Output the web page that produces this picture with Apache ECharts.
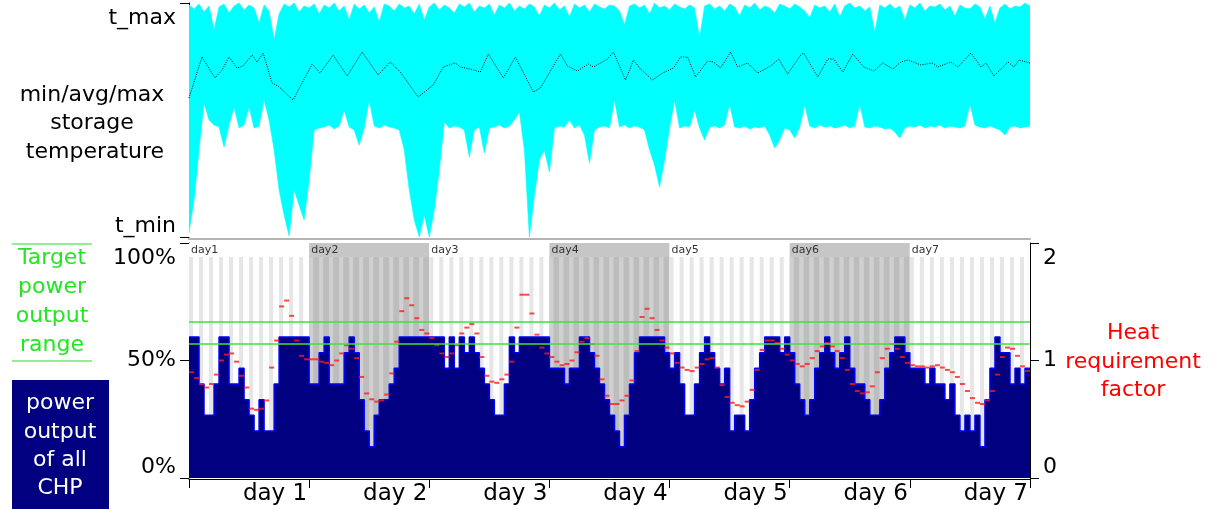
<!DOCTYPE html>
<html><head><meta charset="utf-8">
<script src="https://cdn.jsdelivr.net/npm/echarts@6/dist/echarts.min.js"></script>
<style>html,body{margin:0;padding:0;background:#fff}#c{width:1216px;height:509px}</style>
</head><body><div id="c"></div>
<script>
// ---- data (hours 0..168 across 7 days) ----
const hoursPerDay = 24;
const dayLabels = ['day 1','day 2','day 3','day 4','day 5','day 6','day 7'];
const dayHeaders = ['day1','day2','day3','day4','day5','day6','day7'];
const tempTicks = ['t_min','t_max'];
// storage temperature, relative units between t_min (0) and t_max (234), hourly
const tempMax = [232,228,233,225,231,207,230,233,224,231, 234,227,232,229,214,232,226,197,223,233,
 230,234,225,231,229,233,223,232,229,234, 226,231,217,233,228,232,224,230,215,233,
 231,226,233,229,231,223,233,217,230,234, 227,232,229,224,233,230,234,225,231,229,
 233,222,232,229,234,226,231,228,233,230, 221,232,229,234,227,231,220,233,229,232,
 225,233,230,228,232,231,226,212,231,233, 229,232,223,234,229,231,227,233,230,228,
 232,229,199,231,233,228,231,226,233,230, 221,232,229,234,227,231,229,224,233,231,
 228,233,230,226,219,232,229,231,225,233, 220,231,234,229,231,226,230,205,232,229,
 233,228,231,217,232,229,234,226,231,230, 233,227,231,221,232,229,228,233,230,218,
 231,214,229,233,228,231,230,234,231];
const tempMin = [4,37,87,134,117,112,110,90,112,130, 109,112,130,109,111,137,117,87,47,22,
 1,47,32,17,57,107,109,110,112,108, 111,127,110,107,92,109,137,111,109,112,
 110,109,107,87,47,17,0,22,0,27, 67,115,109,111,110,107,80,107,110,84,
 109,110,112,109,111,117,125,87,0,42, 77,87,65,109,111,110,117,109,112,102,
 74,107,110,111,109,137,110,112,109,111, 110,107,87,72,50,77,109,137,109,111,
 110,127,109,97,110,111,109,112,133,110, 109,111,108,110,109,111,102,89,97,109,
 107,99,110,132,111,109,112,110,111,109, 110,112,109,111,133,110,109,111,110,108,
 109,105,99,109,111,110,112,109,111,110, 112,109,111,110,109,111,133,112,110,109,
 111,109,107,102,110,111,109,110,111];
const avgHours = [0,2.6,5.2,6.6,8,9.6,10.8,12.6,13.6,14.8,16.6,17.8,20.8,24.6,26.2,28.8,31.6,34.6,37.8,40.2,
 42.2,45.8,48.8,50.8,53.2,54.2,56.2,58.2,59.8,62.8,65.2,68.8,70.2,74.2,75.6,77.6,79.8,80.8,83.6,84.8,
 87.2,88.8,90.2,92.6,94.6,96.8,98.2,99.6,101.2,103.6,104.8,106.2,108.2,109.6,111.6,113.6,116.2,117.8,119.6,122.2,
 122.8,125.6,127.6,128.8,130.6,132.6,134.8,136.8,138.6,140.6,142.2,143.6,146.2,148.6,149.6,152.2,153.6,156.2,158.2,159.2,
 160.8,163.6,164.8,165.8,168];
const avgTemp = [139,180,159,167,180,169,171,182,175,184,154,151,137,173,164,182,161,185,162,175,
 165,140,152,170,174,170,168,165,183,159,180,145,149,183,171,166,173,170,178,185,
 157,177,168,157,164,169,180,180,160,176,175,169,185,170,174,164,171,178,163,182,
 184,160,178,178,165,183,170,166,174,168,175,177,172,174,170,175,170,184,170,174,
 161,175,170,177,174];
// power output of all CHP, % (hourly)
const power = [60,60,40,26.7,26.7,40,60,60,40,40, 46.7,33.3,26.7,20,33.3,20,20,40,60,60,
 60,60,60,60,40,40,53.3,60,40,40, 40,53.3,60,53.3,33.3,20,13.3,26.7,33.3,33.3,
 40,46.7,60,60,60,60,60,60,60,60, 60,46.7,60,46.7,60,53.3,60,53.3,46.7,40,
 33.3,26.7,26.7,40,60,53.3,60,60,60,60, 60,60,46.7,46.7,46.7,40,46.7,46.7,60,60,
 53.3,46.7,40,33.3,26.7,20,13.3,26.7,40,53.3, 60,60,60,60,60,53.3,46.7,53.3,40,26.7,
 26.7,40,53.3,60,53.3,46.7,40,46.7,20,26.7, 26.7,20,33.3,46.7,53.3,60,60,60,53.3,60,
 53.3,40,33.3,26.7,33.3,46.7,53.3,60,53.3,46.7, 53.3,60,46.7,40,40,33.3,26.7,26.7,33.3,46.7,
 53.3,60,60,53.3,46.7,46.7,46.7,40,46.7,40, 40,33.3,40,26.7,20,26.7,20,26.7,13.3,33.3,
 46.7,60,53.3,53.3,40,46.7,40,46.7];
// heat requirement factor (hourly)
const heatFactor = [0.90,0.85,0.80,0.77,0.80,0.88,1.00,1.05,1.06,0.99, 0.87,0.77,0.59,0.58,0.59,0.66,0.94,1.17,1.46,1.51,
 1.38,1.17,1.04,1.01,1.01,1.01,0.99,0.98,0.96,1.00, 1.06,1.13,1.10,1.02,0.86,0.72,0.67,0.65,0.66,0.71,
 0.89,1.16,1.42,1.53,1.47,1.36,1.26,1.23,1.19,1.13, 1.06,1.03,1.06,1.13,1.23,1.28,1.31,1.23,1.03,0.87,
 0.82,0.81,0.84,0.88,0.99,1.28,1.56,1.56,1.40,1.22, 1.11,1.06,1.03,0.99,0.96,0.97,1.00,1.07,1.16,1.19,
 1.14,1.04,0.84,0.70,0.63,0.63,0.66,0.70,0.83,1.08, 1.37,1.44,1.36,1.26,1.17,1.11,1.06,0.98,0.94,0.92,
 0.91,0.94,0.97,1.01,1.02,0.94,0.79,0.69,0.64,0.62, 0.61,0.65,0.75,0.92,1.09,1.17,1.17,1.15,1.10,1.05,
 1.00,0.97,0.95,0.97,1.02,1.08,1.12,1.15,1.12,1.08, 1.02,0.92,0.80,0.74,0.72,0.73,0.78,0.90,1.02,1.10,
 1.14,1.10,1.03,0.98,0.96,0.95,0.95,0.94,0.95,0.96, 0.94,0.92,0.90,0.86,0.80,0.74,0.68,0.64,0.63,0.66,
 0.74,0.88,1.03,1.11,1.10,1.04,0.95,0.91];
const targetRange = [57.3, 66.3];
const powerTicks = [0, 50, 100];
const heatTicks = [0, 1, 2];

// ---- chart ----
const FONT = 'DejaVu Sans';
const totalHours = hoursPerDay * dayLabels.length;
const stripeStarts = [];
for (let h = 0; h < totalHours; h += 2) stripeStarts.push([h, 94]);

const powerData = power.map((v, i) => [i, v]);
powerData.push([power.length, power[power.length - 1]]);

const chart = echarts.init(document.getElementById('c'));
const axisLbl = { fontFamily: FONT, fontSize: 22, color: '#000' };
const txt = (text, x, y, fill) => ({ type: 'text', style: { text, x, y, font: '22px "' + FONT + '"', fill, textAlign: 'center', textVerticalAlign: 'middle' } });
const yLbl = extra => Object.assign({}, axisLbl, { margin: 13, padding: [4, 0, 0, 0],
  verticalAlignMinLabel: 'bottom', verticalAlignMaxLabel: 'top' }, extra);

chart.setOption({
  animation: false,
  grid: [
    { left: 189, top: 3, width: 841, height: 234 },
    { left: 189, top: 243, width: 841, height: 235 }
  ],
  xAxis: [
    { gridIndex: 0, type: 'value', min: 0, max: totalHours, interval: 24, offset: 2,
      axisLine: { show: true, onZero: false, lineStyle: { color: '#b4b4b4', width: 2 } },
      axisTick: { show: false }, axisLabel: { show: false }, splitLine: { show: false } },
    { gridIndex: 1, type: 'value', min: 0, max: totalHours, interval: 24, offset: 1,
      axisLine: { show: true, onZero: false, lineStyle: { color: '#000', width: 1 } },
      axisTick: { show: true, length: 9, lineStyle: { color: '#000' } },
      axisLabel: Object.assign({}, axisLbl, { margin: 4, align: 'right', fontSize: 23, padding: [0, 2, 0, 0],
        formatter: v => v > 0 ? dayLabels[v / 24 - 1] : '' }),
      splitLine: { show: false } }
  ],
  yAxis: [
    { gridIndex: 0, type: 'value', min: 0, max: 234, interval: 234,
      axisLine: { show: true, lineStyle: { color: '#000' } },
      axisTick: { show: true, length: 9, lineStyle: { color: '#000' } },
      axisLabel: yLbl({ formatter: v => v === 0 ? tempTicks[0] : tempTicks[1] }),
      splitLine: { show: false } },
    { gridIndex: 1, type: 'value', min: powerTicks[0], max: powerTicks[2], interval: 50,
      axisLine: { show: true, lineStyle: { color: '#000' } },
      axisTick: { show: true, length: 9, lineStyle: { color: '#000' } },
      axisLabel: yLbl({ formatter: v => v + '%' }),
      splitLine: { show: false } },
    { gridIndex: 1, type: 'value', position: 'right', min: heatTicks[0], max: heatTicks[2], interval: 1,
      axisLine: { show: true, lineStyle: { color: '#000' } },
      axisTick: { show: true, length: 9, lineStyle: { color: '#000' } },
      axisLabel: yLbl({}),
      splitLine: { show: false } }
  ],
  series: [
    // hourly background stripes
    { type: 'custom', xAxisIndex: 1, yAxisIndex: 1, z: 1, silent: true, clip: true,
      data: stripeStarts,
      renderItem: (params, api) => {
        const h = api.value(0), top = api.value(1);
        const gray = Math.floor(h / hoursPerDay) % 2 === 1;
        const a = api.coord([h, top]), b = api.coord([h + 2, 0]), c = api.coord([h + 0.8, 0]);
        return { type: 'group', children: [
          { type: 'rect', shape: { x: a[0], y: a[1], width: b[0] - a[0], height: b[1] - a[1] },
            style: { fill: gray ? '#bdbdbd' : '#ffffff' } },
          { type: 'rect', shape: { x: a[0], y: a[1], width: c[0] - a[0], height: c[1] - a[1] },
            style: { fill: gray ? '#d0d0d0' : '#e6e6e6' } }
        ] };
      } },
    // day header row
    { type: 'custom', xAxisIndex: 1, yAxisIndex: 1, z: 1, silent: true,
      data: dayHeaders.map((d, i) => [i * hoursPerDay, 100]),
      renderItem: (params, api) => {
        const h = api.value(0);
        const a = api.coord([h, 100]), b = api.coord([h + hoursPerDay, 94]);
        const gray = params.dataIndex % 2 === 1;
        return { type: 'group', children: [
          { type: 'rect', shape: { x: a[0], y: a[1], width: b[0] - a[0], height: b[1] - a[1] },
            style: { fill: gray ? '#c6c6c6' : '#ffffff' } },
          { type: 'text', style: { text: dayHeaders[params.dataIndex], x: a[0] + 2, y: (a[1] + b[1]) / 2,
            fill: '#333', font: '11px "' + FONT + '"', textVerticalAlign: 'middle' } }
        ] };
      } },
    // power output
    { type: 'line', xAxisIndex: 1, yAxisIndex: 1, z: 2, step: 'end', symbol: 'none',
      data: powerData,
      lineStyle: { color: '#0000ff', width: 1.5 },
      areaStyle: { color: '#000080', opacity: 1 },
      markLine: { silent: true, symbol: 'none', label: { show: false },
        lineStyle: { color: '#3de23d', width: 1.5, type: 'solid' },
        data: targetRange.map(v => ({ yAxis: v })) } },
    // heat requirement factor
    { type: 'scatter', xAxisIndex: 1, yAxisIndex: 2, z: 4, symbol: 'rect', symbolSize: [5, 2],
      data: heatFactor.map((v, i) => [i + 0.5, v]),
      itemStyle: { color: '#ff1a1a' } },
    // storage temperature band: cyan max area, white min area on top
    { type: 'line', xAxisIndex: 0, yAxisIndex: 0, z: 2, symbol: 'none',
      data: tempMax.map((v, i) => [i, v]),
      lineStyle: { width: 0.6, color: '#00ffff' },
      areaStyle: { color: '#00ffff', opacity: 1 } },
    { type: 'line', xAxisIndex: 0, yAxisIndex: 0, z: 3, symbol: 'none',
      data: tempMin.map((v, i) => [i, v]),
      lineStyle: { width: 0.6, color: '#00ffff' },
      areaStyle: { color: '#ffffff', opacity: 1 } },
    { type: 'line', xAxisIndex: 0, yAxisIndex: 0, z: 5, symbol: 'none',
      data: avgHours.map((h, i) => [h, avgTemp[i]]),
      lineStyle: { color: '#000', width: 1, type: [1, 1.4] } }
  ],
  graphic: [
    txt('min/avg/max', 92, 95, '#000'),
    txt('storage', 92, 123, '#000'),
    txt('temperature', 95, 152, '#000'),
    { type: 'line', shape: { x1: 12, y1: 244, x2: 92, y2: 244 }, style: { stroke: '#6ee86e', lineWidth: 1.5 } },
    { type: 'line', shape: { x1: 12, y1: 361, x2: 92, y2: 361 }, style: { stroke: '#6ee86e', lineWidth: 1.5 } },
    txt('Target', 52, 258, '#22e622'),
    txt('power', 52, 287, '#22e622'),
    txt('output', 52, 316, '#22e622'),
    txt('range', 52, 345, '#22e622'),
    { type: 'rect', shape: { x: 12, y: 380, width: 97, height: 129 }, style: { fill: '#000080' } },
    txt('power', 60, 403, '#fff'),
    txt('output', 60, 432, '#fff'),
    txt('of all', 60, 460, '#fff'),
    txt('CHP', 60, 488, '#fff'),
    txt('Heat', 1133, 333, '#ff0000'),
    txt('requirement', 1133, 362, '#ff0000'),
    txt('factor', 1133, 390, '#ff0000')
  ]
});
</script>
</body></html>
